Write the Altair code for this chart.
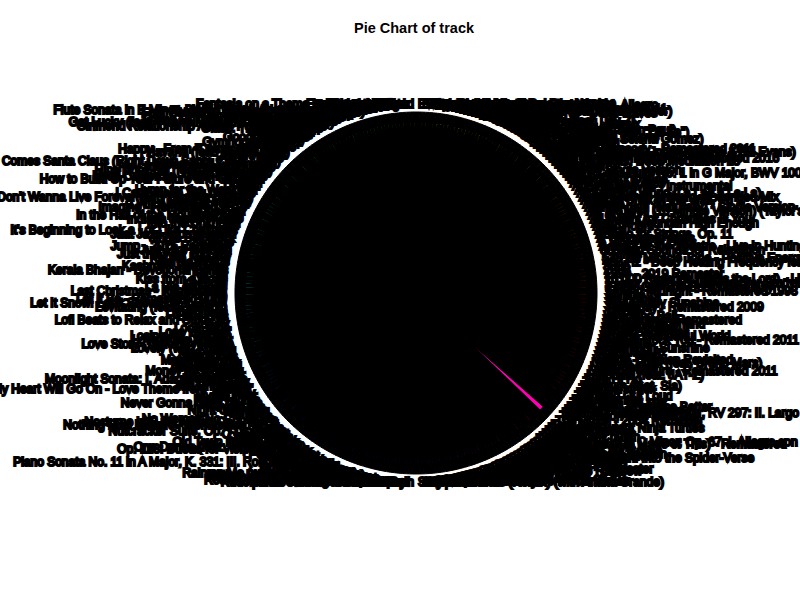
import math
import colorsys
import pandas as pd
import altair as alt

TRACKS = [
    "'Round Midnight - Remastered 1998", "(Sittin' On) The Dock of the Bay",
    "1 Hour Deep Focus Music for Studying and Concentration", "10,000 Reasons (Bless the Lord) - Live",
    "1999 - 2019 Remaster", "2002", "3005", "432 Hz - Deep Healing Frequency for Sleep",
    "528 Hz Miracle Tone - Positive Energy", "7 Rings", "8D Rain Sounds for Relaxation",
    "A Night at the Theatre - Live in Huntington", "A Sky Full of Stars", "A Thousand Years",
    "Adagio for Strings, Op. 11", "Africa", "After Hours", "Ain't No Mountain High Enough",
    "All I Want for Christmas Is You", "All of Me", "All Too Well (10 Minute Version) (Taylor's Version)",
    "Alone Again (Naturally) - Single Version", "Angels", "Another Brick in the Wall, Pt. 2",
    "Aqua Festival Anthem - Extended Mix", "Around the World (La La La La La)", "As It Was",
    "Autumn Leaves - Instrumental", "Ave Maria, D. 839", "Baby Shark Dance", "Bad Guy",
    "Bach: Cello Suite No. 1 in G Major, BWV 1007: I. Prélude", "Beat It - Single Version", "Believer",
    "Billie Jean", "Binaural Beats: Deep Meditation 18", "Bitter Sweet Symphony - Remastered 2016",
    "Blinding Lights - Remix by Lena", "Blue in Green (feat. John Coltrane & Bill Evans)",
    "Bohemian Rhapsody - Remastered 2011", "Breathe (2022)", "Brown Eyed Girl", "Bye Bye Bye",
    "Calm Down (with Selena Gomez)", "Can't Help Falling in Love", "Canon in D Major",
    "Chaiyya Chaiyya (From \"Dil Se\")", "Cheap Thrills (feat. Sean Paul)", "Clair de Lune, L. 32",
    "Closer", "Cold Heart - PNAU Remix", "Come As You Are", "Crazy in Love (feat. Jay-Z)", "Creep",
    "Cruel Summer", "Dance Monkey", "Dancing Queen", "Deep Sleep 432 Hz - Delta Waves", "Demons",
    "Despacito - Remix (feat. Justin Bieber)", "Don't Start Now", "Don't Stop Me Now - Remastered 2011",
    "Dreams - 2004 Remaster", "Dust in the Wind", "Earth Song", "Echoes from the Forge",
    "Eine kleine Nachtmusik, K. 525: I. Allegro", "Eleanor Rigby - Remastered 2009",
    "Elevated - Visionaries Remix", "Enter Sandman", "Every Breath You Take",
    "Everybody Wants to Rule the World", "Everything I Wanted", "Eye of the Tiger",
    "Faded", "Fantasia on a Theme by Thomas Tallis", "Fast Car", "Feel Good Inc.", "Feeling Good",
    "Feliz Navidad", "Firework", "Fix You", "Flowers", "Flute Sonata in E Minor, BWV 1034: I. Adagio ma non tanto",
    "Fly Me to the Moon (In Other Words)", "Forever - feat. Lil Wayne", "Four Seasons: Spring, RV 269: I. Allegro",
    "Free Bird", "Frosty the Snowman", "Für Elise, WoO 59", "Game Of Thrones - Main Title Theme",
    "Gangnam Style", "Get Lucky (feat. Pharrell Williams & Nile Rodgers)", "Gimme Shelter",
    "Girlfriend Relationship Advice Podcast Episode", "Glass: The Blues Suite", "God's Plan", "Golden Hour",
    "Good Days", "Good Vibrations", "Gravity", "Gymnopédie No. 1", "Hallelujah", "Halo",
    "Happy - From \"Despicable Me 2\"", "Havana (feat. Young Thug)", "Heat Waves", "Hello",
    "Here Comes Santa Claus (Right Down Santa Claus Lane)", "Heroes - 2017 Remaster", "Hey Jude - Remastered 2015",
    "Hips Don't Lie (feat. Wyclef Jean)", "Holes in the Sky", "Hotel California - 2013 Remaster",
    "How to Build Up Your Future and Get Rich", "Human", "Hurt", "Hymn for the Weekend",
    "I Can't Make You Love Me", "I Don't Wanna Live Forever (Fifty Shades Darker)", "I Gotta Feeling",
    "I Will Always Love You", "Imagine - Remastered 2010", "In the End", "In the Hall of the Mountain King",
    "Indiana Jones Theme", "Into the Unknown", "Iris", "It's Beginning to Look a Lot Like Christmas",
    "Jaat Jazz Improvisation", "Jingle Bell Rock", "Jolene", "Jump - 2015 Remaster", "Just Like Heaven",
    "Just the Way You Are", "Kal Ho Naa Ho", "Karma Police", "Kashmir - Remaster",
    "Kerala Bhajan - Devotional Songs", "Kill Bill", "Kiss from a Rose", "Kokomo", "La Vie en Rose",
    "Last Christmas - Remastered", "Lean on Me", "Let It Be - Remastered 2009",
    "Let It Snow! Let It Snow! Let It Snow!", "Levitating (feat. DaBaby)", "Little Green", "Little Lies",
    "Lofi Beats to Relax and Study To", "Lonely", "Loop Tape", "Lose Yourself", "Losing My Religion",
    "Love is the Answer", "Love Story (Taylor's Version)", "Lovely (with Khalid)", "Mad World", "Memories",
    "Metal Machine", "Midnight City", "Mockingbird", "Money for Nothing", "Moon River",
    "Moonlight Sonata: I. Adagio sostenuto", "Mr. Blue Sky", "Mr. Brightside",
    "My Heart Will Go On - Love Theme from \"Titanic\"", "My Way", "Mystic Fear", "Neon Nights",
    "Never Gonna Give You Up", "New Rules", "Night Changes", "Nightcall", "Ninja", "No Woman No Cry - Live",
    "Nocturne in E-flat Major, Op. 9 No. 2", "Nothing Else Matters - Remastered 2021", "Numb",
    "Nutcracker Suite, Op. 71a: March", "O Holy Night", "Ocean Eyes", "Ode to Joy", "Old Town Road - Remix",
    "On the Beach", "One Dance (feat. Wizkid & Kyla)", "Op. 128: Duette for Violin and Piano",
    "Paint It Black", "Peace Piece", "Perfect", "Perfect Day", "Piano Man",
    "Piano Sonata No. 11 in A Major, K. 331: III. Rondo alla turca", "Pompeii", "Psycho Killer",
    "Punk Rock 101", "Purple Rain", "Raabta", "Radioactive", "Rain on Me (with Ariana Grande)", "Rasputin",
    "Rather Be (feat. Jess Glynne)", "Redbone", "Relaxing Piano Music for Sleep", "Respect",
    "Riding The Storm", "Riptide", "Rockin' Around the Christmas Tree", "Rolling in the Deep", "Roxanne",
    "Rudolph the Red-Nosed Reindeer", "Runaway",
    "Sail", "Santa Claus Is Comin' to Town", "Save Your Tears (Remix) (with Ariana Grande)", "Say So",
    "Señorita", "September", "Seven Nation Army", "Shallow - A Star Is Born Soundtrack", "Shape of You",
    "Sicko Mode", "Silent Night", "Single Ladies (Put a Ring on It)", "Skyfall", "Sleigh Ride",
    "Smells Like Teen Spirit", "So What", "Someone Like You", "Somewhere Over the Rainbow", "Sorry",
    "Stairway to Heaven - Remaster", "Stand by Me", "Starboy (feat. Daft Punk)", "Stay (with Justin Bieber)",
    "Stressed Out", "Summertime Sadness", "Sunflower - Spider-Man: Into the Spider-Verse",
    "Sunflower - Single Version", "Superstition - Single Version", "Swan Lake, Op. 20: Scene",
    "Sweet Caroline", "Sweet Child O' Mine", "Sweet Dreams (Are Made of This) - Remastered",
    "Symphony No. 5 in C Minor, Op. 67: I. Allegro con brio", "Take Five", "Take Me to Church", "Take On Me",
    "Teenage Dirtbag", "Teenage Mutant Ninja Turtles", "Tere Bina", "The Chain - 2004 Remaster",
    "The Dragon Lies Sleeping", "The Four Seasons: Winter, RV 297: II. Largo", "The Girl from Ipanema",
    "The Less I Know the Better", "The Night We Met", "The Scientist", "Thinking Out Loud", "Thriller",
    "Thunderstruck", "Titanium (feat. Sia)", "Toxic", "Tum Hi Ho", "Umbrella (feat. JAY-Z)",
    "Under Pressure - Remastered 2011", "Unstoppable", "Uptown Funk (feat. Bruno Mars)",
    "Valerie - Version Revisited", "Viva la Vida", "Wake Me Up", "Walking on Sunshine", "Waterfalls",
    "We Will Rock You - Remastered 2011", "What a Wonderful World", "White Christmas", "Wicked Game",
    "Winter Wonderland", "Wonderwall - Remastered", "Wrecking Ball", "Yellow", "Yesterday - Remastered 2009",
    "You Are My Sunshine", "Your Song", "Zombie",
]

# counts per track (tracks not listed occur once)
COUNTS = {
    "The Chain - 2004 Remaster": 2,
}

TITLE = "Pie Chart of track"

# ---- pie layout (R style: counter-clockwise from 3 o'clock, rainbow colours) ----
n = len(TRACKS)
vals = [COUNTS.get(t, 1) for t in TRACKS]
total = float(sum(vals))
rows = []
cum = 0.0
for i, (t, v) in enumerate(zip(TRACKS, vals)):
    f0 = cum / total
    f1 = (cum + v) / total
    cum += v
    phi = 2 * math.pi * (f0 + f1) / 2
    r, g, b = colorsys.hsv_to_rgb(i / n, 1, 1)
    rows.append({
        "track": t,
        "count": v,
        "a0": 2.5 * math.pi - 2 * math.pi * f0,
        "a1": 2.5 * math.pi - 2 * math.pi * f1,
        "lx": 1.1 * math.cos(phi),
        "ly": 1.1 * math.sin(phi),
        "side": "L" if math.cos(phi) < 0 else "R",
        "col": "#%02x%02x%02x" % (int(r * 255), int(g * 255), int(b * 255)),
    })
df = pd.DataFrame(rows)

RPX = 172.0
xs = alt.Scale(domain=[-416 / RPX, 384 / RPX], nice=False, zero=False)
ys = alt.Scale(domain=[-307 / RPX, 248 / RPX], nice=False, zero=False)

base = alt.Chart(df)
cx = alt.XDatum(0, type="quantitative", scale=xs, axis=None)
cy = alt.YDatum(0, type="quantitative", scale=ys, axis=None)

pie = base.mark_arc(outerRadius=172, stroke="black", strokeWidth=3.6).encode(
    theta=alt.Theta("a0:Q", scale=None, stack=None),
    theta2="a1:Q",
    fill=alt.Fill("col:N", scale=None),
    x=cx, y=cy,
)

ticks = base.mark_arc(innerRadius=172, outerRadius=181, fill="black", stroke="black", strokeWidth=1).encode(
    theta=alt.Theta("a0:Q", scale=None, stack=None),
    theta2="a1:Q",
    x=cx, y=cy,
)

def labels(side, align):
    return base.transform_filter(alt.datum.side == side).mark_text(
        align=align, baseline="middle", font="Liberation Sans", fontSize=12,
        color="black", stroke="black", strokeWidth=2.2,
    ).encode(
        x=alt.X("lx:Q", scale=xs, axis=None),
        y=alt.Y("ly:Q", scale=ys, axis=None),
        text="track:N",
    )

chart = alt.layer(pie, ticks, labels("L", "right"), labels("R", "left")).properties(
    width=800, height=555,
    autosize="none",
    padding={"top": 45, "left": 0, "right": 0, "bottom": 0},
    background="white",
    title=alt.TitleParams(TITLE, font="Liberation Sans", fontSize=14.5, fontWeight="bold",
                          anchor="middle", dx=14, offset=9, color="black"),
).configure_view(stroke=None)

chart.save("out.html", embed_options={"renderer": "svg", "actions": False})
